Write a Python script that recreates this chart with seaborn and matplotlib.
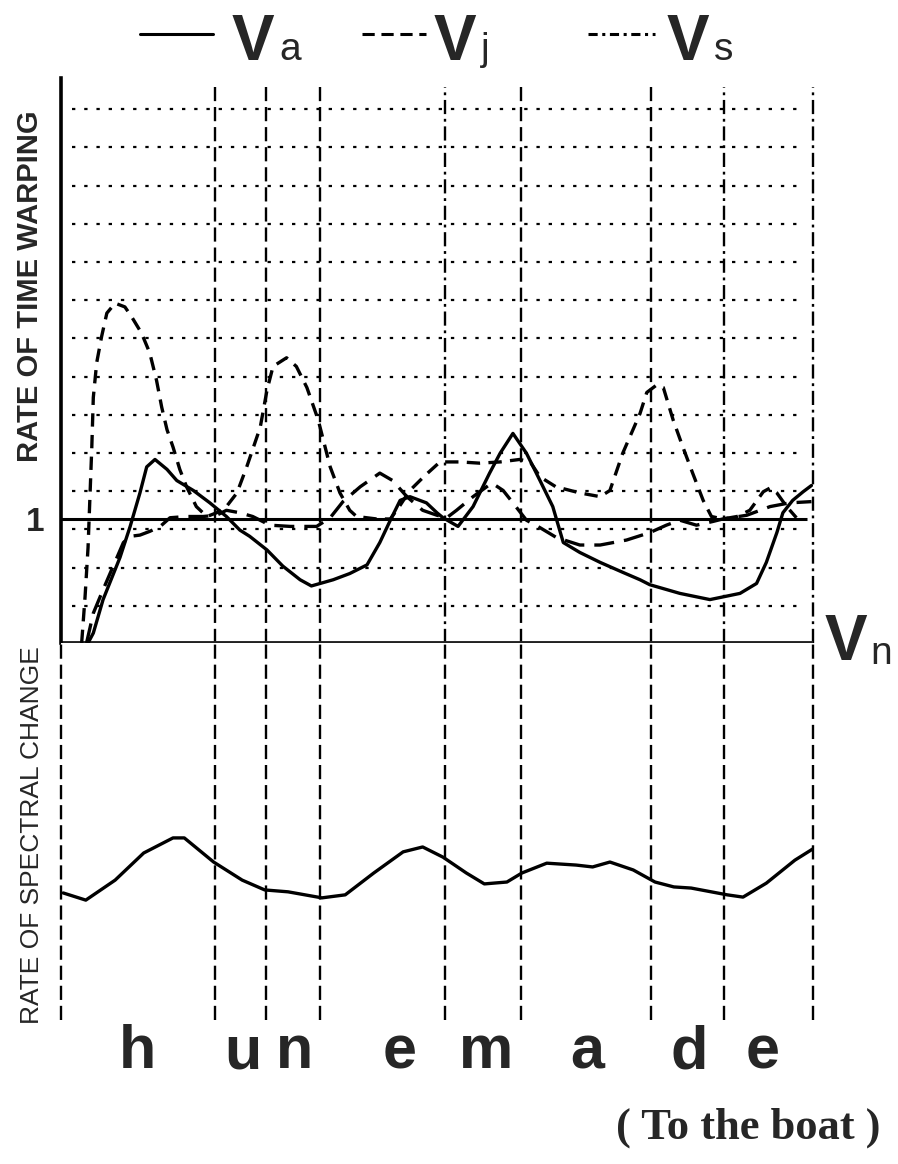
import numpy as np
import matplotlib
matplotlib.use('Agg')
import matplotlib.pyplot as plt
import seaborn as sns
from matplotlib.lines import Line2D

# Time axis normalised to 0-100 over the utterance "hunemade"
boundaries = [0, 20.5, 27.3, 34.4, 51.1, 61.2, 78.5, 88.2, 100]
phonemes = ['h', 'u', 'n', 'e', 'm', 'a', 'd', 'e']
phoneme_pos = [10.2, 24.2, 31.0, 45.0, 56.5, 70.0, 83.5, 93.3]

# Rate of time warping (1 = no warping)
va_t = [3.6, 4.3, 5.6, 7.85, 9.2, 10.5, 11.4, 12.5, 14.1, 15.4, 17.6, 19.8, 22.0, 23.8,
        25.1, 27.4, 29.5, 31.8, 33.3, 36.2, 38.4, 40.7, 42.4, 43.8, 45.1, 46.4, 48.6,
        50.0, 50.8, 52.8, 54.8, 57.0, 58.4, 60.1, 61.9, 63.7, 65.4, 66.8, 69.0, 71.7,
        74.7, 77.0, 78.3, 82.3, 86.3, 90.3, 92.5, 93.8, 95.2, 96.0, 97.3, 98.7, 99.8]
va_rate = [0.0, 0.08, 0.35, 0.69, 0.94, 1.21, 1.42, 1.48, 1.40, 1.31, 1.23, 1.13, 1.02,
           0.91, 0.86, 0.75, 0.62, 0.51, 0.46, 0.51, 0.56, 0.63, 0.81, 0.99, 1.15, 1.18,
           1.13, 1.05, 1.01, 0.94, 1.10, 1.37, 1.53, 1.69, 1.53, 1.31, 1.10, 0.81, 0.73,
           0.65, 0.57, 0.51, 0.47, 0.40, 0.35, 0.40, 0.48, 0.65, 0.89, 1.05, 1.15, 1.22, 1.27]

vj_t = [3.4, 4.3, 5.6, 6.95, 8.3, 9.2, 10.5, 11.8, 13.2, 14.5, 16.7, 18.9, 20.7, 22.0,
        23.8, 25.5, 27.8, 30.5, 34.0, 35.8, 37.5, 39.8, 42.4, 44.1, 46.0, 48.1, 50.0,
        51.3, 52.6, 54.8, 57.3, 58.8, 60.1, 61.9, 63.7, 65.9, 69.0, 71.7, 75.2, 78.3,
        80.5, 82.3, 84.5, 86.7, 88.0, 91.2, 94.3, 96.9, 99.8]
vj_rate = [0.0, 0.24, 0.43, 0.62, 0.81, 0.86, 0.87, 0.90, 0.94, 1.01, 1.02, 1.02, 1.03,
           1.07, 1.05, 1.02, 0.95, 0.94, 0.94, 1.01, 1.14, 1.26, 1.37, 1.31, 1.18, 1.07,
           1.03, 1.01, 1.07, 1.18, 1.29, 1.23, 1.13, 0.99, 0.93, 0.85, 0.79, 0.79, 0.83,
           0.89, 0.95, 0.99, 0.95, 0.98, 1.00, 1.03, 1.10, 1.13, 1.14]

vs_t = [2.75, 3.2, 3.6, 4.1, 4.3, 4.75, 5.4, 6.1, 7.2, 8.5, 9.4, 10.7, 11.8, 12.7, 13.4,
        14.1, 14.9, 15.8, 16.7, 18.0, 19.4, 20.7, 22.0, 23.4, 24.7, 26.5, 27.4, 28.2,
        30.0, 31.3, 32.7, 34.2, 35.8, 37.1, 38.4, 39.3, 42.0, 43.8, 45.1, 46.4, 48.4,
        50.4, 53.1, 55.7, 58.4, 61.0, 62.4, 63.7, 65.8, 69.0, 71.7, 73.0, 74.7, 77.0,
        77.9, 79.2, 80.1, 81.4, 82.7, 84.0, 85.4, 86.5, 88.0, 89.9, 91.6, 93.4, 94.3,
        95.2, 96.5, 97.8]
vs_rate = [0.0, 0.37, 0.77, 1.58, 1.98, 2.26, 2.47, 2.66, 2.74, 2.71, 2.63, 2.50, 2.34,
           2.12, 1.90, 1.72, 1.58, 1.40, 1.26, 1.10, 1.02, 1.05, 1.10, 1.21, 1.42, 1.74,
           2.04, 2.23, 2.30, 2.23, 2.06, 1.80, 1.42, 1.21, 1.07, 1.02, 1.00, 1.00, 1.11,
           1.23, 1.35, 1.46, 1.46, 1.45, 1.46, 1.48, 1.46, 1.34, 1.26, 1.21, 1.18, 1.23,
           1.53, 1.85, 2.02, 2.08, 2.06, 1.80, 1.58, 1.37, 1.15, 1.02, 1.00, 1.02, 1.07,
           1.22, 1.25, 1.21, 1.10, 1.01]

# Rate of spectral change (arbitrary units)
sc_t = [0.3, 3.3, 7.2, 11.0, 14.9, 16.4, 20.3, 24.1, 27.1, 30.2, 34.7, 37.8, 41.6, 45.5,
        48.1, 50.8, 53.9, 56.3, 59.3, 61.3, 64.6, 68.5, 70.7, 73.0, 76.1, 79.0, 81.5,
        83.8, 88.6, 90.7, 93.8, 97.6, 100.0]
sc_rate = [3.37, 3.18, 3.71, 4.43, 4.83, 4.83, 4.19, 3.71, 3.45, 3.40, 3.24, 3.32, 3.90,
           4.46, 4.59, 4.32, 3.90, 3.61, 3.66, 3.90, 4.16, 4.11, 4.06, 4.19, 3.98, 3.66,
           3.53, 3.50, 3.32, 3.26, 3.63, 4.24, 4.54]

sns.set_style('white')
plt.rcParams['font.family'] = ['Liberation Sans', 'DejaVu Sans']

fig = plt.figure(figsize=(8.98, 11.64), dpi=100)
ax = fig.add_axes([0.0679, 0.4476, 0.8374, 0.4854])
ax2 = fig.add_axes([0.0679, 0.1237, 0.8374, 0.3239])

dash_v = (0, (6, 2.5))
dashdot_v = (0, (6, 2, 1.2, 2))
vstyles = [dash_v, dash_v, dash_v, dash_v, dashdot_v, dash_v, dash_v, dashdot_v, dashdot_v]

# --- upper panel: rate of time warping ---
ax.set_xlim(0, 100)
ax.set_ylim(0, 4.556)
grid_levels = 0.3 + 0.308 * np.arange(14)
ax.hlines(grid_levels, 1.5, 99, colors='black', lw=1.6, linestyles=(0, (1.5, 4)))
for b, st in zip(boundaries[1:], vstyles[1:]):
    ax.vlines(b, 0, 4.48, colors='black', lw=1.7, linestyles=st, clip_on=False)
ax.hlines(1, 0, 99.2, colors='black', lw=2.2)
ax.hlines(0, 0, 100, colors='#222222', lw=2.8, clip_on=False)

sns.lineplot(x=va_t, y=va_rate, ax=ax, color='black', lw=2.4, sort=False, estimator=None)
sns.lineplot(x=vj_t, y=vj_rate, ax=ax, color='black', lw=2.4, sort=False, estimator=None,
             linestyle=(0, (6, 3)))
sns.lineplot(x=vs_t, y=vs_rate, ax=ax, color='black', lw=2.4, sort=False, estimator=None,
             linestyle=(0, (4, 2.5)))

for s in ['top', 'right', 'bottom']:
    ax.spines[s].set_visible(False)
ax.spines['left'].set_linewidth(2.6)
ax.spines['left'].set_color('black')
ax.set_xticks([])
ax.set_yticks([1])
ax.set_yticklabels(['1'], fontsize=24, weight='bold')
ax.tick_params(axis='y', length=0, pad=12)
ax.set_ylabel('RATE OF TIME WARPING', fontsize=21, weight='bold')
ax.yaxis.set_label_coords(-0.022, 0.632)

ax.text(101.5, 0, 'V', fontsize=46, weight='bold', va='center', ha='left')
ax.text(107.6, -0.09, 'n', fontsize=28, va='center', ha='left')

# --- lower panel: rate of spectral change ---
ax2.set_xlim(0, 100)
ax2.set_ylim(0, 10)
for b in boundaries:
    ax2.vlines(b, 0, 10, colors='black', lw=1.7, linestyles=dash_v, clip_on=False)
sns.lineplot(x=sc_t, y=sc_rate, ax=ax2, color='black', lw=2.4, sort=False, estimator=None)
for s in ['top', 'right', 'bottom', 'left']:
    ax2.spines[s].set_visible(False)
ax2.set_yticks([])
ax2.set_xticks(phoneme_pos)
ax2.set_xticklabels(phonemes, fontsize=44, weight='bold')
ax2.tick_params(axis='x', length=0, pad=3)
ax2.set_ylabel('RATE OF SPECTRAL CHANGE', fontsize=19)
ax2.yaxis.set_label_coords(-0.022, 0.49)

fig.text(881 / 898, 1 - 1128 / 1164, '( To the boat )', fontsize=32, weight='bold',
         family=['Liberation Serif', 'DejaVu Serif'], ha='right', va='center')

# --- legend ---
leg = [(140, 213, 19, '-', 'a'), (362, 426, 8, (0, (4, 2.2)), 'j'),
       (588, 655, 12, (0, (3, 1.5, 1, 1.5)), 's')]
for x0, x1, gap, st, sub in leg:
    fig.add_artist(Line2D([x0 / 898, x1 / 898], [1 - 34 / 1164] * 2, color='black', lw=2.2,
                          linestyle=st))
    fig.text((x1 + gap) / 898, 1 - 60 / 1164, 'V', fontsize=46, weight='bold', va='baseline')
    fig.text((x1 + gap + 47) / 898, 1 - 60 / 1164, sub, fontsize=28, va='baseline')

fig.savefig('out.png', dpi=100, facecolor='white')
